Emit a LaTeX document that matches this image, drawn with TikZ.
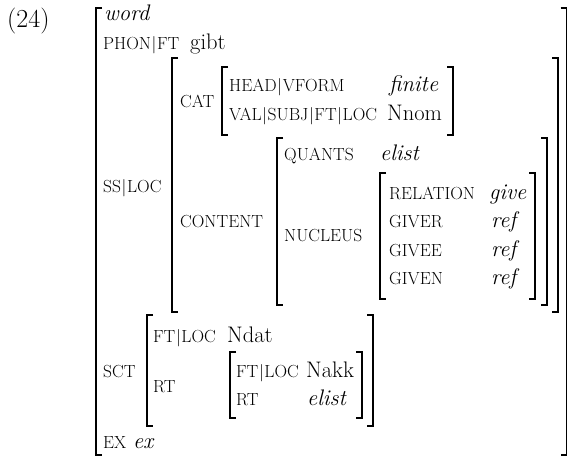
\documentclass[tikz,border=0pt]{standalone}
\newcommand\avmfont{\fontsize{22.5}{26}\selectfont}
\newcommand\fs[1]{{\fontsize{17.5}{20}\selectfont\MakeUppercase{#1}}}
\newcommand\bb{{\fontsize{17.5}{20}\selectfont\kern0.6pt$|$\kern0.6pt}}
\newcommand\avmL[3]{\draw[brk] (#1+6,#2) -- (#1,#2) -- (#1,#3) -- (#1+6,#3);}
\newcommand\avmR[3]{\draw[brk] (#1-6,#2) -- (#1,#2) -- (#1,#3) -- (#1-6,#3);}
\tikzset{
  lbl/.style={anchor=base west, inner sep=0pt, font=\avmfont},
  brk/.style={line width=1.1pt, line cap=butt, line join=miter}
}
\begin{document}
\begin{tikzpicture}[x=1pt,y=-1pt]
\useasboundingbox (0,0) rectangle (568,457);
% example number
\node[lbl, font=\fontsize{26}{30}\selectfont] (num) at (7,28) {(24)};
% outer brackets
\avmL{96}{8}{455}
\avmR{566.5}{8}{455}
\node[lbl] (word) at (104,21) {\textit{word}};
\node[lbl] (phon) at (103,50) {\fs{phon}\bb\fs{ft}};
\node[lbl] (gibt) at (190,50) {gibt};
% SS|LOC
\node[lbl] (ssloc) at (103,193) {\fs{ss}\bb\fs{loc}};
\avmL{172}{58}{312}
\avmR{558}{58}{312}
% CAT
\node[lbl] (cat) at (180,108) {\fs{cat}};
\avmL{222}{67}{135}
\avmR{453}{67}{135}
\node[lbl] (head) at (229,92) {\fs{head}\bb\fs{vform}};
\node[lbl] (finite) at (389,92) {\textit{finite}};
\node[lbl] (val) at (229,121) {\fs{val}\bb\fs{subj}\bb\fs{ft}\bb\fs{loc}};
\node[lbl] (nnom) at (387,121) {Nnom};
% CONTENT
\node[lbl] (content) at (180,228) {\fs{content}};
\avmL{277}{138}{305}
\avmR{547}{138}{305}
\node[lbl] (quants) at (284,161) {\fs{quants}};
\node[lbl] (elist1) at (380,161) {\textit{elist}};
\node[lbl] (nucleus) at (284,242) {\fs{nucleus}};
\avmL{380}{173}{299}
\avmR{535}{173}{299}
\node[lbl] (relation) at (389,200) {\fs{relation}};
\node[lbl] (give) at (489,200) {\textit{give}};
\node[lbl] (giver) at (389,228) {\fs{giver}};
\node[lbl] (ref1) at (491,228) {\textit{ref}};
\node[lbl] (givee) at (389,257) {\fs{givee}};
\node[lbl] (ref2) at (491,257) {\textit{ref}};
\node[lbl] (given) at (389,285) {\fs{given}};
\node[lbl] (ref3) at (491,285) {\textit{ref}};
% SCT
\node[lbl] (sct) at (103,377) {\fs{sct}};
\avmL{147}{315}{426}
\avmR{373}{315}{426}
\node[lbl] (ftloc1) at (153,342) {\fs{ft}\bb\fs{loc}};
\node[lbl] (ndat) at (227,342) {Ndat};
\node[lbl] (rt1) at (153,392) {\fs{rt}};
\avmL{230}{352}{418}
\avmR{362}{352}{418}
\node[lbl] (ftloc2) at (236,377) {\fs{ft}\bb\fs{loc}};
\node[lbl] (nakk) at (306,377) {Nakk};
\node[lbl] (rt2) at (236,405) {\fs{rt}};
\node[lbl] (elist2) at (307,405) {\textit{elist}};
% EX
\node[lbl] (ex) at (103,448) {\fs{ex} \textit{ex}};
\end{tikzpicture}
\end{document}
